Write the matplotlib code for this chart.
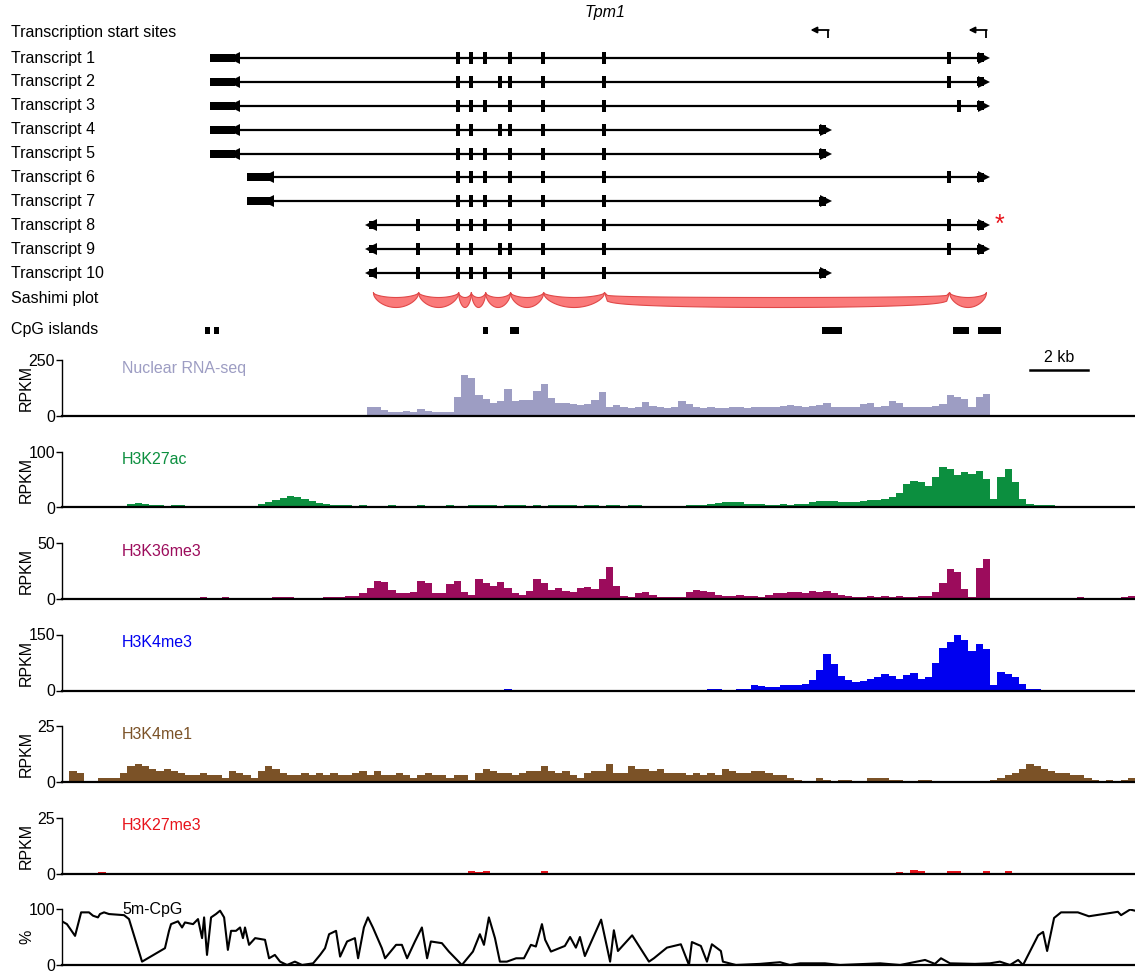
import numpy as np
import matplotlib
matplotlib.use('Agg')
import matplotlib.pyplot as plt
from matplotlib.patches import Rectangle
from matplotlib.transforms import blended_transform_factory

plt.rcParams['font.family'] = ['Liberation Sans', 'DejaVu Sans']

# ---- gene models (positions in kb from the left edge of the tracks) ----
tx_names = ['Transcript %d' % i for i in range(1, 11)]
tx_start = [5.10, 5.10, 5.10, 5.10, 5.10, 6.38, 6.38, 10.60, 10.60, 10.60]
tx_first_end = [5.97, 5.97, 5.97, 5.97, 5.97, 7.17, 7.17, 10.86, 10.86, 10.86]
tx_end = [31.86, 31.86, 31.86, 26.41, 26.41, 31.86, 26.41, 31.86, 31.86, 26.41]
tx_exons = [
    [13.66, 14.10, 14.59, 15.45, 16.59, 18.69, 30.59],
    [13.66, 14.10, 15.10, 15.45, 16.59, 18.69, 30.59],
    [13.66, 14.10, 14.59, 15.45, 16.59, 18.69, 30.93],
    [13.66, 14.10, 15.10, 15.45, 16.59, 18.69],
    [13.66, 14.10, 14.59, 15.45, 16.59, 18.69],
    [13.66, 14.10, 14.59, 15.45, 16.59, 18.69, 30.59],
    [13.66, 14.10, 14.59, 15.45, 16.59, 18.69],
    [12.28, 13.66, 14.10, 14.59, 15.45, 16.59, 18.69, 30.59],
    [12.28, 13.66, 14.10, 15.10, 15.45, 16.59, 18.69, 30.59],
    [12.28, 13.66, 14.10, 14.59, 15.45, 16.59, 18.69],
]
tss_pos = [26.41, 31.86]
junctions = [(10.72, 12.28), (12.28, 13.66), (13.66, 14.10), (14.10, 14.59),
             (14.59, 15.45), (15.45, 16.59), (16.59, 18.69), (18.69, 30.59),
             (30.59, 31.86)]
cpg_islands = [(4.93, 5.10), (5.24, 5.41), (14.52, 14.69), (15.45, 15.76),
               (26.21, 26.90), (30.72, 31.28), (31.59, 32.38)]

# ---- signal tracks, 0.25 kb bins over 37 kb ----
bin_edges = np.arange(149) * 0.25

rna = [0, 0, 0, 0, 0, 0, 0, 0, 0, 0,
       0, 0, 0, 0, 0, 0, 0, 0, 0, 0,
       0, 0, 0, 0, 0, 0, 0, 0, 0, 0,
       0, 0, 0, 0, 0, 0, 0, 0, 0, 0,
       0, 0, 40, 38, 28, 20, 18, 22, 20, 30,
       22, 18, 20, 16, 85, 185, 170, 95, 75, 60,
       65, 120, 65, 72, 70, 110, 145, 80, 60, 58,
       55, 50, 55, 70, 105, 40, 50, 40, 35, 38,
       62, 45, 38, 36, 40, 65, 55, 40, 36, 38,
       35, 37, 40, 38, 36, 38, 40, 42, 40, 45,
       48, 44, 42, 45, 50, 58, 42, 40, 38, 42,
       55, 58, 40, 45, 65, 60, 42, 38, 40, 38,
       45, 52, 95, 85, 75, 40, 85, 100, 0, 0,
       0, 0, 0, 0, 0, 0, 0, 0, 0, 0,
       0, 0, 0, 0, 0, 0, 0, 0]

h3k27ac = [0, 0, 0, 0, 0, 0, 0, 0, 1, 6,
           8, 6, 4, 4, 3, 5, 4, 3, 3, 2,
           3, 2, 1, 1, 2, 1, 3, 6, 10, 14,
           17, 21, 18, 15, 11, 8, 6, 5, 4, 4,
           3, 4, 3, 2, 3, 4, 2, 3, 3, 4,
           3, 2, 3, 4, 3, 3, 4, 4, 5, 4,
           3, 4, 5, 4, 3, 4, 3, 4, 5, 4,
           4, 3, 4, 4, 3, 4, 4, 3, 4, 4,
           3, 3, 2, 3, 3, 3, 4, 4, 5, 6,
           8, 9, 10, 9, 7, 6, 6, 5, 5, 6,
           5, 6, 7, 9, 11, 12, 11, 10, 9, 10,
           12, 13, 14, 16, 18, 25, 42, 47, 45, 38,
           55, 73, 68, 58, 64, 60, 66, 50, 15, 55,
           68, 45, 15, 6, 5, 5, 4, 1, 1, 1,
           1, 1, 0, 0, 1, 1, 0, 0]

h3k36me3 = [0, 0, 0, 0, 0, 0, 1, 1, 0, 0,
            0, 0, 0, 1, 1, 0, 0, 0, 1, 2,
            1, 1, 2, 1, 1, 1, 1, 0, 0, 2,
            2, 2, 1, 1, 0, 1, 2, 2, 2, 3,
            3, 5, 10, 16, 15, 8, 5, 5, 6, 16,
            14, 5, 5, 13, 16, 6, 4, 18, 14, 12,
            15, 10, 5, 4, 7, 18, 14, 8, 10, 7,
            6, 10, 11, 9, 18, 29, 12, 3, 2, 5,
            6, 4, 2, 2, 2, 2, 6, 8, 7, 6,
            4, 3, 3, 4, 3, 3, 2, 4, 5, 5,
            6, 6, 5, 7, 6, 7, 5, 4, 3, 2,
            2, 3, 2, 3, 2, 3, 2, 2, 3, 3,
            6, 14, 27, 24, 9, 2, 28, 36, 0, 0,
            0, 0, 0, 0, 0, 0, 1, 0, 0, 1,
            2, 1, 0, 0, 0, 1, 2, 3]

h3k4me3 = [0, 0, 0, 0, 0, 0, 0, 0, 0, 0,
           0, 0, 0, 0, 0, 0, 0, 0, 0, 0,
           0, 0, 0, 0, 0, 0, 0, 0, 0, 0,
           1, 1, 0, 0, 0, 0, 0, 0, 0, 0,
           0, 0, 0, 0, 0, 0, 1, 0, 0, 0,
           0, 0, 0, 0, 0, 0, 0, 1, 1, 1,
           2, 3, 1, 1, 1, 0, 0, 1, 1, 0,
           0, 0, 1, 1, 0, 0, 0, 0, 1, 1,
           0, 0, 1, 1, 1, 0, 0, 0, 1, 3,
           3, 2, 1, 4, 5, 14, 12, 10, 9, 15,
           16, 14, 18, 28, 55, 98, 72, 40, 28, 22,
           25, 30, 35, 45, 38, 32, 42, 48, 32, 36,
           75, 115, 130, 148, 135, 105, 125, 110, 15, 50,
           45, 35, 18, 5, 3, 2, 1, 0, 0, 0,
           0, 0, 0, 0, 0, 0, 0, 0]

h3k4me1 = [0, 5, 4, 0, 0, 2, 2, 2, 4, 7,
           8, 7, 6, 5, 6, 5, 4, 3, 3, 4,
           3, 3, 2, 5, 4, 3, 2, 5, 7, 6,
           4, 3, 3, 4, 3, 4, 3, 4, 3, 3,
           4, 5, 3, 5, 3, 3, 4, 3, 2, 3,
           4, 3, 3, 2, 3, 3, 1, 4, 6, 5,
           4, 4, 3, 4, 5, 5, 7, 5, 4, 5,
           3, 2, 4, 5, 5, 8, 4, 4, 7, 6,
           6, 5, 6, 4, 4, 4, 3, 4, 3, 4,
           3, 6, 5, 4, 4, 5, 5, 4, 3, 3,
           2, 1, 0, 0, 2, 1, 0, 1, 1, 0,
           0, 2, 2, 2, 1, 1, 0, 0, 1, 1,
           0, 0, 0, 0, 0, 0, 0, 0, 1, 2,
           3, 4, 6, 8, 7, 6, 5, 4, 4, 3,
           3, 2, 1, 0, 1, 0, 1, 2]

h3k27me3 = [0.2, 0.2, 0.2, 0.2, 0.2, 0.8, 0.2, 0.2, 0.2, 0.2,
            0.2, 0.2, 0.1, 0.2, 0.3, 0.2, 0.2, 0.3, 0.2, 0.2,
            0.1, 0.2, 0.2, 0.3, 0.2, 0.1, 0.2, 0.2, 0.2, 0.1,
            0.2, 0.2, 0.1, 0.3, 0.3, 0.2, 0.3, 0.2, 0.2, 0.1,
            0.2, 0.1, 0.2, 0.2, 0.3, 0.2, 0.2, 0.1, 0.2, 0.2,
            0.2, 0.3, 0.2, 0.2, 0.2, 0.3, 1.0, 0.5, 1.0, 0.2,
            0.2, 0.2, 0.3, 0.2, 0.2, 0.4, 1.2, 0.3, 0.2, 0.2,
            0.2, 0.3, 0.2, 0.2, 0.1, 0.2, 0.2, 0.2, 0.1, 0.2,
            0.2, 0.2, 0.1, 0.2, 0.2, 0.2, 0.3, 0.2, 0.2, 0.2,
            0.2, 0.2, 0.1, 0.2, 0.2, 0.2, 0.2, 0.3, 0.2, 0.2,
            0.2, 0.3, 0.2, 0.2, 0.2, 0.3, 0.2, 0.2, 0.1, 0.3,
            0.2, 0.2, 0.3, 0.2, 0.3, 0.6, 0.4, 1.5, 1.2, 0.3,
            0.2, 0.3, 0.9, 1.0, 0.3, 0.2, 0.2, 1.3, 0.3, 0.2,
            1.2, 0.3, 0.2, 0.2, 0.2, 0.3, 0.2, 0.2, 0.2, 0.2,
            0.2, 0.1, 0.2, 0.2, 0.2, 0.2, 0.2, 0.2]

# ---- CpG methylation (%) ----
mcpg_pos = [0.00, 0.17, 0.45, 0.66, 0.93, 1.07, 1.24, 1.31, 1.45, 1.62,
            2.14, 2.31, 2.76, 3.55, 3.69, 3.76, 4.00, 4.14, 4.24, 4.52,
            4.69, 4.83, 4.90, 5.00, 5.14, 5.31, 5.45, 5.59, 5.72, 5.83,
            6.00, 6.14, 6.24, 6.31, 6.45, 6.66, 7.00, 7.14, 7.34, 7.52,
            7.76, 8.03, 8.28, 8.66, 8.90, 9.07, 9.21, 9.45, 9.59, 9.83,
            10.10, 10.21, 10.41, 10.55, 10.72, 11.03, 11.14, 11.52, 11.72, 11.90,
            12.17, 12.41, 12.59, 12.72, 13.10, 13.34, 13.79, 14.17, 14.41, 14.55,
            14.72, 14.93, 15.10, 15.34, 15.66, 15.93, 16.17, 16.34, 16.55, 16.66,
            16.86, 17.34, 17.52, 17.72, 17.86, 18.03, 18.59, 18.90, 19.03, 19.17,
            19.66, 20.24, 20.41, 20.86, 21.34, 21.62, 21.72, 22.03, 22.24, 22.41,
            22.72, 22.79, 23.24, 24.07, 24.76, 25.10, 25.45, 26.31, 26.83, 28.21,
            28.90, 29.76, 30.10, 30.31, 30.62, 31.48, 32.00, 32.34, 32.69, 32.97,
            33.14, 33.66, 33.83, 33.97, 34.21, 34.45, 35.03, 35.41, 36.41, 36.52,
            36.83, 37.00]
mcpg_val = [78, 73, 52, 94, 94, 88, 85, 91, 94, 91,
            89, 82, 6, 30, 61, 73, 78, 67, 76, 73,
            82, 48, 85, 18, 85, 91, 97, 85, 27, 61,
            61, 67, 48, 67, 36, 48, 45, 12, 18, 6,
            0, 6, 0, 3, 18, 30, 55, 61, 15, 42,
            48, 12, 67, 85, 67, 30, 12, 36, 36, 12,
            42, 67, 12, 42, 39, 24, 0, 24, 55, 36,
            85, 48, 6, 6, 12, 12, 36, 33, 73, 45,
            24, 34, 50, 31, 50, 16, 81, 6, 62, 25,
            53, 6, 12, 31, 37, 0, 41, 34, 6, 37,
            25, 6, 0, 2, 5, 0, 3, 3, 0, 3,
            0, 9, 2, 12, 3, 2, 3, 6, 0, 9,
            0, 53, 59, 25, 84, 94, 94, 87, 95, 89,
            99, 97]

tracks = [
    ('Nuclear RNA-seq', rna, 250, '#9d9dc3', 'RPKM'),
    ('H3K27ac', h3k27ac, 100, '#0c8f3f', 'RPKM'),
    ('H3K36me3', h3k36me3, 50, '#9c0c5c', 'RPKM'),
    ('H3K4me3', h3k4me3, 150, '#0000f0', 'RPKM'),
    ('H3K4me1', h3k4me1, 25, '#7b5227', 'RPKM'),
    ('H3K27me3', h3k27me3, 25, '#e8131b', 'RPKM'),
]

W, H = 1135, 972
X0 = 62          # left edge of tracks (px)
PX_PER_KB = 29.0
SPAN = (W - X0) / PX_PER_KB
FS = 11.5

fig = plt.figure(figsize=(W / 100, H / 100), dpi=100)

# ---------------- gene model panel (y in px from top) ----------------
top_h = 340
ax = fig.add_axes([0, 1 - top_h / H, 1, top_h / H])
ax.set_xlim(-X0 / PX_PER_KB, SPAN)
ax.set_ylim(top_h, 0)
ax.axis('off')
lab_x = (11 - X0) / PX_PER_KB

ax.text(18.72, 12, 'Tpm1', fontsize=FS, style='italic', ha='center', va='center')
ax.text(lab_x, 33, 'Transcription start sites', fontsize=FS, va='center')
for p in tss_pos:
    ax.plot([p, p], [38, 30], color='k', lw=1.3, solid_capstyle='butt')
    ax.annotate('', xy=(p - 0.6, 30), xytext=(p + 0.03, 30),
                arrowprops=dict(arrowstyle='-|>', color='k', lw=1.3,
                                mutation_scale=9, shrinkA=0, shrinkB=0))

for i, name in enumerate(tx_names):
    y = 58 + 23.9 * i
    ax.text(lab_x, y, name, fontsize=FS, va='center')
    ax.plot([tx_first_end[i], tx_end[i] - 0.2], [y, y], color='k', lw=1.6)
    s, e = tx_start[i], tx_first_end[i]
    ax.add_patch(Rectangle((s, y - 4), e - s, 8, color='k', lw=0))
    tip = e - 0.05 if e - s > 0.5 else s + 0.05
    ax.plot(tip, y, marker='<', color='k', ms=8, mew=0)
    for ex in tx_exons[i]:
        ax.add_patch(Rectangle((ex - 0.06, y - 6), 0.12, 12, color='k', lw=0))
    ax.add_patch(Rectangle((tx_end[i] - 0.3, y - 4.5), 0.25, 9, color='k', lw=0))
    ax.plot(tx_end[i] - 0.08, y, marker='>', color='k', ms=8, mew=0)
ax.text(32.34, 225, '*', color='#e8131b', fontsize=18, ha='center', va='center')

ax.text(lab_x, 298, 'Sashimi plot', fontsize=FS, va='center')
for a, b in junctions:
    t = np.linspace(0, 1, 120)
    xs = a + (b - a) * t
    p = 0.5 if b - a < 5 else 0.15
    prof = np.sin(np.pi * t) ** p
    ax.fill_between(xs, 292 + 5 * prof, 292 + 15 * prof,
                    facecolor='#fa7a7a', edgecolor='#e04848', lw=0.8)

ax.text(lab_x, 329, 'CpG islands', fontsize=FS, va='center')
for a, b in cpg_islands:
    ax.add_patch(Rectangle((a, 326.5), b - a, 7, color='k', lw=0))

# ---------------- signal tracks ----------------
def make_track(i, ymax, ylab):
    base = 416 + 91.5 * i
    t = fig.add_axes([X0 / W, 1 - base / H, (W - X0) / W, 56 / H])
    t.set_xlim(0, SPAN)
    t.set_ylim(0, ymax)
    t.set_xticks([])
    t.set_yticks([0, ymax])
    for sp in ('top', 'right'):
        t.spines[sp].set_visible(False)
    t.spines['bottom'].set_linewidth(1.6)
    t.spines['left'].set_linewidth(1.0)
    t.tick_params(axis='y', length=4, width=1, labelsize=FS, pad=1)
    t.set_ylabel(ylab, fontsize=FS)
    t.yaxis.set_label_coords(-0.026, 0.5)
    t.patch.set_alpha(0)
    return t

for i, (name, vals, ymax, col, ylab) in enumerate(tracks):
    t = make_track(i, ymax, ylab)
    t.stairs(vals, bin_edges, fill=True, color=col, lw=0)
    t.text(0.056, 0.85, name, color=col, fontsize=FS, va='center',
           transform=t.transAxes)
    if i == 0:
        tr = blended_transform_factory(t.transData, t.transAxes)
        t.plot([33.38, 35.38], [0.82, 0.82], color='k', lw=1.8,
               transform=tr, clip_on=False)
        t.text(34.38, 1.05, '2 kb', fontsize=FS, ha='center', va='center',
               transform=tr)

t = make_track(6, 100, '%')
t.plot(mcpg_pos, mcpg_val, color='k', lw=1.5)
t.text(0.056, 1.0, '5m-CpG', color='k', fontsize=FS, va='center',
       transform=t.transAxes)

fig.savefig('out.png', dpi=100)
